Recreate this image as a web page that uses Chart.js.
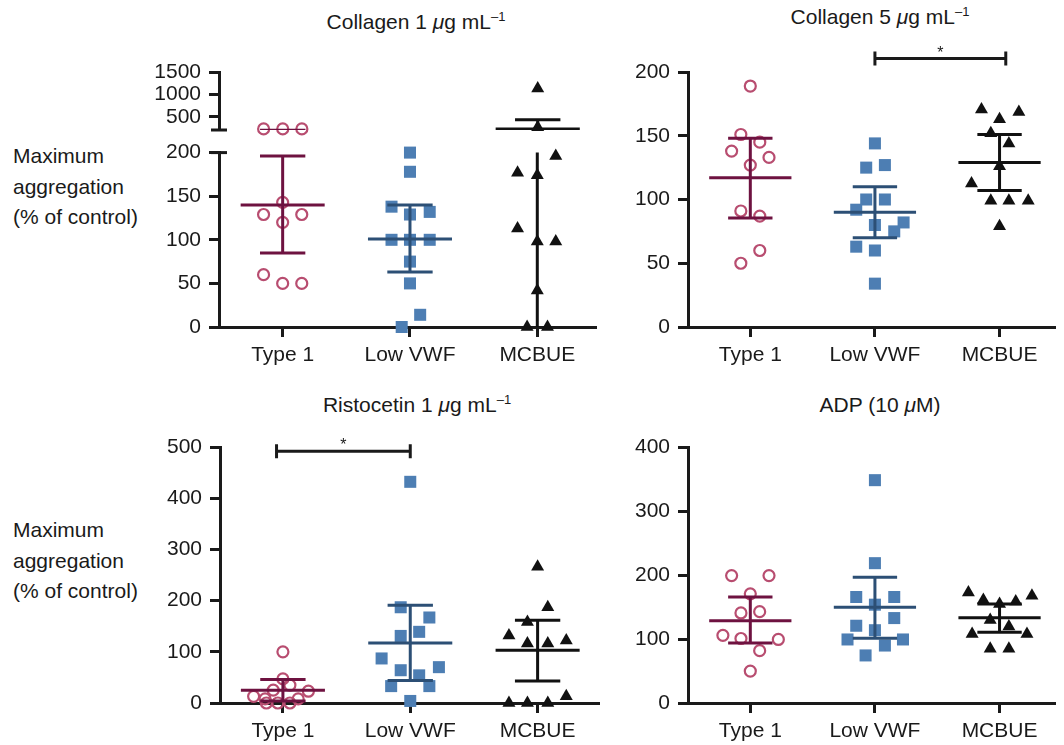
<!DOCTYPE html>
<html>
<head>
<meta charset="utf-8">
<script src="https://cdn.jsdelivr.net/npm/chart.js@4.4.1/dist/chart.umd.min.js"></script>
<style>
  html, body { margin: 0; padding: 0; background: #fff; overflow: hidden; }
  body { width: 1064px; height: 745px; position: relative; font-family: "Liberation Sans", Arial, sans-serif; color: #1a1a1a; }
  canvas { position: absolute; }
  .title { position: absolute; font-size: 21px; line-height: 24px; white-space: nowrap; transform: translateX(-50%); }
  .title sup { font-size: 13px; vertical-align: 0; position: relative; top: -8px; }
  .ylab { position: absolute; left: 13px; font-size: 21px; line-height: 30.5px; white-space: nowrap; }
</style>
</head>
<body>
<div class="title" style="left:416px; top:10px">Collagen 1 <i>μ</i>g mL<sup>–1</sup></div>
<div class="title" style="left:880px; top:5px">Collagen 5 <i>μ</i>g mL<sup>–1</sup></div>
<div class="title" style="left:417px; top:393px">Ristocetin 1 <i>μ</i>g mL<sup>–1</sup></div>
<div class="title" style="left:880px; top:393px">ADP (10 <i>μ</i>M)</div>
<div class="ylab" style="top:141px">Maximum<br>aggregation<br>(% of control)</div>
<div class="ylab" style="top:515px">Maximum<br>aggregation<br>(% of control)</div>

<script>
const CATEGORIES = ["Type 1", "Low VWF", "MCBUE"];

// points: [horizontal jitter in category units, maximum aggregation %]
// stats: [mean, lower bar, upper bar] per group

// Collagen 1 ug/mL (broken axis at 200)
const col1Type1 = [[-0.15, 225], [0, 225], [0.15, 225], [0, 143], [-0.15, 129], [0.15, 129], [0, 120], [-0.15, 60], [0, 50], [0.15, 50]];
const col1LowVwf = [[0, 200], [0, 178], [-0.145, 138], [0.155, 132], [0, 129], [-0.145, 100], [0, 100], [0.155, 100], [0, 75], [0, 50], [0.08, 14], [-0.065, 0]];
const col1Mcbue = [[0, 1140], [0, 265], [0.145, 196], [-0.155, 177], [0, 174], [-0.155, 113], [0, 98], [0.145, 98], [0, 42], [-0.08, 0], [0.08, 0]];
const col1Stats = [[140, 85, 196], [101, 63, 140], [220, -10, 432]];
const col1LowerTicks = [0, 50, 100, 150, 200];
const col1UpperTicks = [500, 1000, 1500];
const col1Break = 200;

// Collagen 5 ug/mL
const col5Type1 = [[0, 189], [-0.076, 151], [0.076, 145], [-0.15, 138], [0.15, 133], [0, 127], [-0.076, 91], [0.076, 87], [0.076, 60], [-0.076, 50]];
const col5LowVwf = [[0, 144], [-0.07, 125], [0.08, 127], [-0.07, 100], [0.08, 100], [-0.15, 92], [0, 80], [0.23, 82], [0.155, 75], [-0.15, 63], [0, 60], [0, 34]];
const col5Mcbue = [[-0.145, 170.5], [0.155, 168.6], [0, 163], [-0.07, 152], [0.075, 144], [0, 126], [-0.225, 112.5], [-0.07, 99], [0.075, 99], [0.23, 99], [0, 79]];
const col5Stats = [[117, 85.5, 148], [90, 70, 110], [129, 107, 151]];
const col5Ticks = [0, 50, 100, 150, 200];
const col5Sig = [1, 2.05, 210.5];

// Ristocetin 1 ug/mL
const ristoType1 = [[0, 100], [0, 47], [0.055, 35], [-0.076, 25], [0.2, 23], [-0.23, 13], [-0.14, 8], [0.12, 8], [-0.13, 0], [-0.04, 0], [0.055, 0]];
const ristoLowVwf = [[0, 432], [-0.075, 187], [0.15, 167], [0.07, 139], [-0.075, 131], [-0.225, 87], [0.225, 70], [-0.075, 64], [0.07, 54], [-0.15, 33], [0.15, 33], [0, 4]];
const ristoMcbue = [[0, 266], [0.08, 187], [-0.08, 158], [-0.225, 132], [0.225, 122], [-0.08, 116], [0.08, 116], [0.225, 13], [-0.225, 0], [-0.08, 0], [0.08, 0]];
const ristoStats = [[25, 4, 46], [117, 44, 191], [103, 43, 161.5]];
const ristoTicks = [0, 100, 200, 300, 400, 500];
const ristoSig = [-0.05, 1, 491.6];

// ADP 10 uM
const adpType1 = [[-0.15, 199.5], [0.15, 199.5], [0, 171], [-0.075, 141], [0.075, 143], [-0.22, 106], [-0.075, 101], [0.225, 99.5], [0.075, 82], [0, 50]];
const adpLowVwf = [[0, 349], [0, 219], [-0.15, 166], [0.155, 166], [0, 154], [0.155, 133], [-0.15, 121], [0, 114], [-0.22, 99.5], [0.225, 99.5], [0.08, 90], [-0.075, 74.5]];
const adpMcbue = [[-0.25, 173], [-0.13, 161.5], [0, 155], [0.13, 159], [0.26, 168], [-0.075, 130], [0.075, 120], [-0.22, 108], [0.22, 108], [-0.075, 85], [0.075, 85]];
const adpStats = [[129, 94, 166], [150, 101.5, 197], [133.4, 111, 155]];
const adpTicks = [0, 100, 200, 300, 400];

const INK = "#1a1a1a";
const FONT = '"Liberation Sans", Arial, sans-serif';
const Y_AXIS_W = 70;
const X_AXIS_H = 45;
const MEAN_HALF = 0.33;
const CAP_HALF = 0.178;

const GROUP_STYLES = [
  { shape: "circle", r: 5.5, bw: 2.2, stroke: "#b84d70", fill: "rgba(0,0,0,0)", bar: "#6e1240" },
  { shape: "rect", r: 8.5, bw: 0, stroke: "#4d7eb3", fill: "#4d7eb3", bar: "#2c4f75" },
  { shape: "triangle", r: 7.5, bw: 0, stroke: "#111", fill: "#111", bar: "#111" },
];

Chart.defaults.font.family = FONT;
Chart.defaults.font.size = 21;
Chart.defaults.color = INK;

// significance bracket, axis break mark
const axisMarks = {
  id: "axisMarks",
  afterDatasetsDraw(chart, args, opts) {
    const xs = chart.scales.x;
    const ys = chart.scales.y;
    const ctx = chart.ctx;
    ctx.save();
    ctx.strokeStyle = INK;
    ctx.fillStyle = INK;
    ctx.lineWidth = 3;
    if (opts.bar) {
      const [x1, x2, v] = opts.bar;
      const px1 = xs.getPixelForValue(x1);
      const px2 = xs.getPixelForValue(x2);
      const py = ys.getPixelForValue(v);
      ctx.beginPath();
      ctx.moveTo(px1, py - 7); ctx.lineTo(px1, py + 7);
      ctx.moveTo(px1, py); ctx.lineTo(px2, py);
      ctx.moveTo(px2, py - 7); ctx.lineTo(px2, py + 7);
      ctx.stroke();
      ctx.font = `16px ${FONT}`;
      ctx.textAlign = "center";
      ctx.textBaseline = "alphabetic";
      ctx.fillText("*", (px1 + px2) / 2, py - 1);
    }
    if (opts.breakAt !== undefined) {
      const py = ys.getPixelForValue(opts.breakAt);
      const px = chart.chartArea.left;
      ctx.beginPath();
      ctx.moveTo(px - 8, py); ctx.lineTo(px + 8, py);
      ctx.stroke();
    }
    ctx.restore();
  },
};

function buildPanel(p) {
  const padTop = p.padTop ?? 20;
  const padRight = p.padRight ?? 8;
  const padBottom = p.padBottom ?? 0;
  const xH = p.showX ? X_AXIS_H : 0;
  const canvas = document.createElement("canvas");
  canvas.width = p.right - p.left + Y_AXIS_W + padRight;
  canvas.height = p.bottom - p.top + padTop + xH + padBottom;
  canvas.style.left = `${p.left - Y_AXIS_W}px`;
  canvas.style.top = `${p.top - padTop}px`;
  document.body.appendChild(canvas);

  const keep = p.keep || (() => true);
  const datasets = [];
  p.groups.forEach((pts, i) => {
    const st = GROUP_STYLES[i];
    const [mean, lo, hi] = p.stats[i];
    const segs = [
      [i - MEAN_HALF, mean, i + MEAN_HALF, mean],
      [i, lo, i, hi],
      [i - CAP_HALF, hi, i + CAP_HALF, hi],
      [i - CAP_HALF, lo, i + CAP_HALF, lo],
    ];
    segs.forEach(([x1, y1, x2, y2]) => {
      datasets.push({
        data: [{ x: x1, y: y1 }, { x: x2, y: y2 }],
        showLine: true,
        borderColor: st.bar,
        borderWidth: 3,
        pointRadius: 0,
        pointHoverRadius: 0,
        order: 0,
      });
    });
    datasets.push({
      data: pts.filter(([, v]) => keep(v)).map(([dx, v]) => ({ x: i + dx, y: v })),
      pointStyle: st.shape,
      pointRadius: st.r,
      pointHoverRadius: st.r,
      pointBorderWidth: st.bw,
      pointBorderColor: st.stroke,
      pointBackgroundColor: st.fill,
      order: 1,
      clip: false,
    });
  });

  const tickGrid = { display: true, drawOnChartArea: false, drawTicks: true, tickLength: 10, tickWidth: 3, tickColor: INK, color: INK };

  return new Chart(canvas, {
    type: "scatter",
    data: { datasets },
    plugins: [axisMarks],
    options: {
      responsive: false,
      animation: false,
      devicePixelRatio: 1,
      events: [],
      layout: { padding: { top: padTop, right: padRight, bottom: padBottom, left: 0 } },
      plugins: {
        legend: { display: false },
        tooltip: { enabled: false },
        axisMarks: { bar: p.sig, breakAt: p.breakAt },
      },
      scales: {
        x: {
          type: "linear",
          min: p.xMin,
          max: p.xMax,
          display: p.showX,
          border: { display: true, color: INK, width: 3 },
          grid: tickGrid,
          ticks: { color: INK, padding: 6, autoSkip: false, maxRotation: 0, callback: (v) => CATEGORIES[v] ?? "" },
          afterBuildTicks: (s) => { s.ticks = CATEGORIES.map((_, i) => ({ value: i })); },
          afterFit: (s) => { s.height = xH; },
        },
        y: {
          type: "linear",
          min: p.yMin,
          max: p.yMax,
          border: { display: true, color: INK, width: 3 },
          grid: tickGrid,
          ticks: { color: INK, padding: 8, callback: (v) => String(v) },
          afterBuildTicks: (s) => { s.ticks = p.yTicks.map((v) => ({ value: v })); },
          afterFit: (s) => { s.width = Y_AXIS_W; },
        },
      },
    },
  });
}

// Collagen 1: upper part of the broken axis
buildPanel({
  left: 219, right: 597, top: 72, bottom: 130, padBottom: 26,
  xMin: -0.5, xMax: 2.465, yMin: col1Break, yMax: 1500, yTicks: col1UpperTicks,
  showX: false, breakAt: col1Break, keep: (v) => v > col1Break,
  groups: [col1Type1, col1LowVwf, col1Mcbue], stats: col1Stats,
});
// Collagen 1: lower part
buildPanel({
  left: 219, right: 597, top: 152, bottom: 327,
  xMin: -0.5, xMax: 2.465, yMin: 0, yMax: col1Break, yTicks: col1LowerTicks,
  showX: true, breakAt: col1Break, keep: (v) => v <= col1Break,
  groups: [col1Type1, col1LowVwf, col1Mcbue], stats: col1Stats,
});
// Collagen 5
buildPanel({
  left: 688, right: 1064, top: 72, bottom: 327, padTop: 40, padRight: 0,
  xMin: -0.5, xMax: 2.449, yMin: 0, yMax: 200, yTicks: col5Ticks,
  showX: true, sig: col5Sig,
  groups: [col5Type1, col5LowVwf, col5Mcbue], stats: col5Stats,
});
// Ristocetin
buildPanel({
  left: 220, right: 600, top: 447, bottom: 703, padTop: 40,
  xMin: -0.494, xMax: 2.486, yMin: 0, yMax: 500, yTicks: ristoTicks,
  showX: true, sig: ristoSig,
  groups: [ristoType1, ristoLowVwf, ristoMcbue], stats: ristoStats,
});
// ADP
buildPanel({
  left: 688, right: 1064, top: 447, bottom: 703, padRight: 0,
  xMin: -0.5, xMax: 2.449, yMin: 0, yMax: 400, yTicks: adpTicks,
  showX: true,
  groups: [adpType1, adpLowVwf, adpMcbue], stats: adpStats,
});
</script>
</body>
</html>
